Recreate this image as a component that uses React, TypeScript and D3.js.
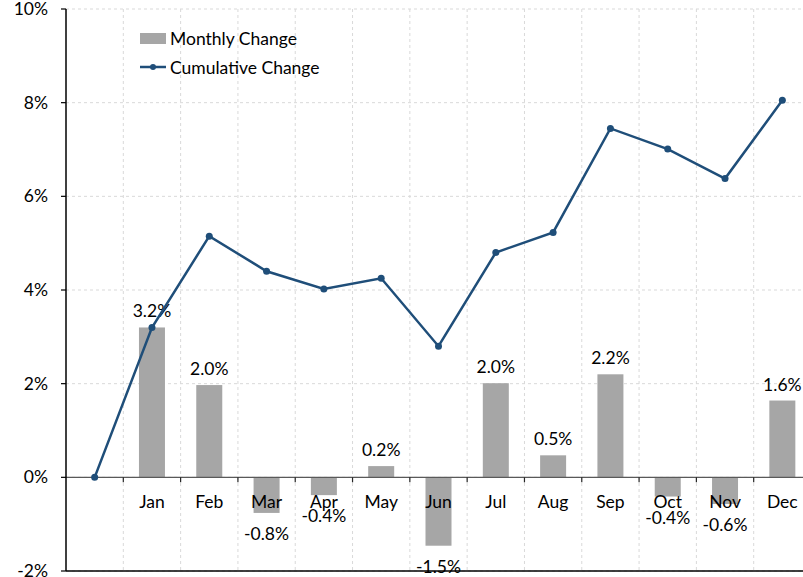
import React from "react";
import * as d3 from "d3";

const categories = ["", "Jan", "Feb", "Mar", "Apr", "May", "Jun", "Jul", "Aug", "Sep", "Oct", "Nov", "Dec"];
const monthlyChange = [null, 3.2, 1.97, -0.76, -0.38, 0.24, -1.46, 2.01, 0.47, 2.2, -0.41, -0.57, 1.64];
const cumulativeChange = [0, 3.2, 5.15, 4.4, 4.02, 4.25, 2.8, 4.8, 5.23, 7.45, 7.01, 6.38, 8.05];
const yTicks = [-2, 0, 2, 4, 6, 8, 10];

const W = 803;
const H = 577;
const FONT = "Lato, 'Open Sans', sans-serif";
const FS = 17.5;

export default function App() {
  const x = d3.scaleBand<string>().domain(categories).range([66, 811]).paddingInner(0).paddingOuter(0);
  const y = d3.scaleLinear().domain([-2, 10]).range([571, 9]);
  const bw = 26;
  const cx = (c: string) => (x(c) as number) + x.bandwidth() / 2;
  const fmt = (v: number) => v.toFixed(1);
  const line = d3
    .line<number>()
    .x((_, i) => cx(categories[i]))
    .y((d) => y(d));
  const boundaries = categories.slice(1).map((c) => x(c) as number);

  return (
    <svg width={W} height={H} style={{ position: "fixed", left: 0, top: 0, background: "#fff" }} fontFamily={FONT}>
      {/* horizontal grid */}
      {yTicks.map((t) => (
        <line key={"hg" + t} x1={66} x2={W} y1={y(t)} y2={y(t)} stroke="#d9d9d9" strokeDasharray="3,3" />
      ))}
      {/* vertical grid */}
      {boundaries.map((b, i) => (
        <line key={"vg" + i} x1={b} x2={b} y1={y(10)} y2={y(-2)} stroke="#d9d9d9" strokeDasharray="3,3" />
      ))}
      {/* bars */}
      {categories.map((c, i) => {
        const v = monthlyChange[i];
        if (v === null) return null;
        return (
          <rect
            key={"b" + c}
            x={cx(c) - bw / 2}
            width={bw}
            y={Math.min(y(v), y(0))}
            height={Math.abs(y(v) - y(0))}
            fill="#a6a6a6"
          />
        );
      })}
      {/* zero line and ticks */}
      <line x1={66} x2={W} y1={y(0)} y2={y(0)} stroke="#595959" strokeWidth={1.2} />
      {boundaries.map((b, i) => (
        <line key={"xt" + i} x1={b} x2={b} y1={y(0)} y2={y(0) + 5} stroke="#262626" strokeWidth={1.2} />
      ))}
      {/* left axis */}
      <line x1={66} x2={66} y1={y(10)} y2={y(-2)} stroke="#000" strokeWidth={1.5} />
      <line x1={66} x2={W} y1={y(-2)} y2={y(-2)} stroke="#000" strokeWidth={1.5} />
      {yTicks.map((t) => (
        <g key={"yt" + t}>
          <line x1={61} x2={66} y1={y(t)} y2={y(t)} stroke="#000" strokeWidth={1.2} />
          <text x={48} y={y(t) + 6} textAnchor="end" fontSize={FS} fill="#000">
            {t}%
          </text>
        </g>
      ))}
      {/* category labels */}
      {categories.map((c) => (
        <text key={"cl" + c} x={cx(c)} y={508} textAnchor="middle" fontSize={FS} fill="#000">
          {c}
        </text>
      ))}
      {/* data labels */}
      {categories.map((c, i) => {
        const v = monthlyChange[i];
        if (v === null) return null;
        const ty = v >= 0 ? y(v) - 10 : y(v) + 27;
        return (
          <text key={"dl" + c} x={cx(c)} y={ty} textAnchor="middle" fontSize={FS} fill="#000">
            {fmt(v)}%
          </text>
        );
      })}
      {/* cumulative line */}
      <path d={line(cumulativeChange) || ""} fill="none" stroke="#1f4e79" strokeWidth={2.5} />
      {cumulativeChange.map((v, i) => (
        <circle key={"m" + i} cx={cx(categories[i])} cy={y(v)} r={3.5} fill="#1f4e79" />
      ))}
      {/* legend */}
      <rect x={140} y={33} width={26} height={11} fill="#a6a6a6" />
      <text x={170} y={45} fontSize={FS} fill="#000">
        Monthly Change
      </text>
      <line x1={140} x2={166} y1={67} y2={67} stroke="#1f4e79" strokeWidth={2.5} />
      <circle cx={153} cy={67} r={3} fill="#1f4e79" />
      <text x={170} y={74} fontSize={FS} fill="#000">
        Cumulative Change
      </text>
    </svg>
  );
}
